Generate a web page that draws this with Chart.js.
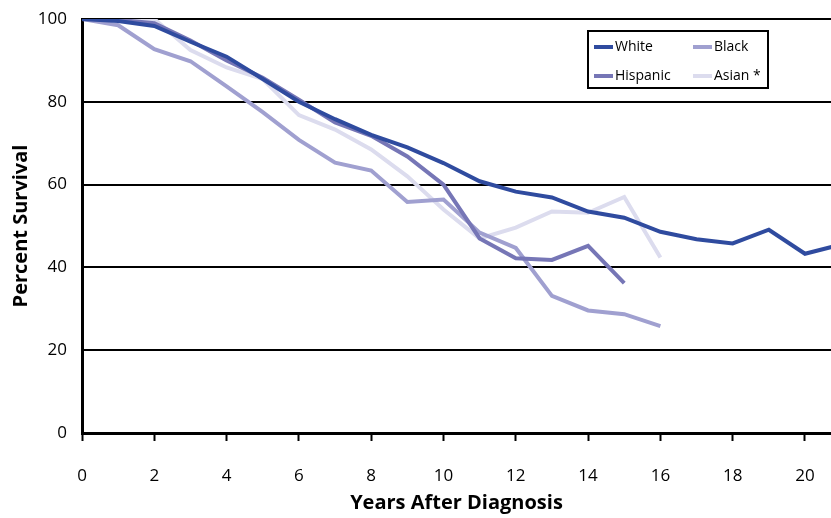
<!DOCTYPE html>
<html>
<head>
<meta charset="utf-8">
<title>Percent Survival by Years After Diagnosis</title>
<script src="https://cdn.jsdelivr.net/npm/chart.js@4"></script>
<style>
  html, body { margin: 0; padding: 0; background: #fff; }
  #chart { display: block; }
</style>
</head>
<body>
<canvas id="chart" width="831" height="518"></canvas>
<script>
// survival data
var years = [0, 1, 2, 3, 4, 5, 6, 7, 8, 9, 10, 11, 12, 13, 14, 15, 16, 17, 18, 19, 20, 21];
var white = [100, 99.5, 98.3, 94.5, 90.9, 85.5, 80, 75.8, 72, 69, 65.2, 60.8, 58.3, 56.9, 53.5, 52, 48.6, 46.8, 45.8, 49.1, 43.3, 45.5];
var hispanic = [100, 99.8, 99, 94.8, 90, 85.8, 80.5, 75, 71.8, 66.8, 60, 47, 42.2, 41.8, 45.2, 36.2];
var black = [100, 98.5, 92.7, 89.8, 83.7, 77.5, 70.8, 65.3, 63.4, 55.8, 56.4, 48.4, 44.7, 33.1, 29.6, 28.7, 25.8];
var asian = [100, 100, 100, 92.5, 88.3, 85.5, 76.8, 73.3, 68.5, 62, 54, 47, 49.6, 53.5, 53.2, 57, 42.4];
var seriesLabels = ['White', 'Hispanic', 'Black', 'Asian *'];
var xTicks = [0, 2, 4, 6, 8, 10, 12, 14, 16, 18, 20];
var yTicks = [0, 20, 40, 60, 80, 100];

var FONT = "'Open Sans', 'DejaVu Sans', sans-serif";

function toPoints(vals) {
  return vals.map(function(v, i) { return { x: years[i], y: v }; });
}

function makeSet(label, vals, color, order) {
  return {
    label: label,
    data: toPoints(vals),
    borderColor: color,
    backgroundColor: color,
    borderWidth: 4,
    pointRadius: 0,
    tension: 0,
    order: order
  };
}

// boxed 2x2 legend like the original
var boxLegend = {
  id: 'boxLegend',
  afterDraw: function(chart) {
    var ctx = chart.ctx;
    var sets = chart.data.datasets;
    var bx = 588, by = 31, bw = 180, bh = 57;
    ctx.save();
    ctx.fillStyle = '#fff';
    ctx.fillRect(bx, by, bw, bh);
    ctx.strokeStyle = '#000';
    ctx.lineWidth = 2;
    ctx.strokeRect(bx, by, bw, bh);
    ctx.font = '14px ' + FONT;
    ctx.textBaseline = 'middle';
    ctx.textAlign = 'left';
    sets.forEach(function(ds, i) {
      var col = Math.floor(i / 2), row = i % 2;
      var x = bx + 6 + col * 99;
      var y = by + 16 + row * 29;
      ctx.fillStyle = ds.borderColor;
      ctx.fillRect(x, y - 2, 19, 4);
      ctx.fillStyle = '#000';
      ctx.fillText(ds.label, x + 21, y);
    });
    ctx.restore();
  }
};

var ctx = document.getElementById('chart').getContext('2d');
new Chart(ctx, {
  type: 'line',
  data: {
    datasets: [
      makeSet(seriesLabels[0], white, '#2f4b9f', 0),
      makeSet(seriesLabels[1], hispanic, '#7676b6', 1),
      makeSet(seriesLabels[2], black, '#a0a0d0', 2),
      makeSet(seriesLabels[3], asian, '#dcdcee', 3)
    ]
  },
  options: {
    responsive: false,
    animation: false,
    layout: { padding: { top: 19, right: 0, left: 0, bottom: 0 } },
    plugins: {
      legend: { display: false },
      tooltip: { enabled: false }
    },
    scales: {
      x: {
        type: 'linear',
        min: 0,
        max: 20.72,
        afterFit: function(s) { s.height = 85; s.paddingLeft = 0; s.paddingRight = 0; },
        afterBuildTicks: function(s) { s.ticks = xTicks.map(function(v) { return { value: v }; }); },
        border: { color: '#000', width: 3 },
        grid: { drawOnChartArea: false, drawTicks: true, tickLength: 8, tickWidth: 2, tickColor: '#000' },
        ticks: { color: '#000', padding: 25, maxRotation: 0, font: { family: FONT, size: 17 } },
        title: { display: true, text: 'Years After Diagnosis', color: '#000', padding: { top: 0, bottom: 3 }, font: { family: FONT, size: 20, weight: 'bold' } }
      },
      y: {
        min: 0,
        max: 100,
        afterFit: function(s) { s.width = 82; s.paddingTop = 0; s.paddingBottom = 0; },
        afterBuildTicks: function(s) { s.ticks = yTicks.map(function(v) { return { value: v }; }); },
        border: { color: '#000', width: 3 },
        grid: { color: '#000', lineWidth: 2, drawTicks: false },
        ticks: { color: '#000', padding: 15, font: { family: FONT, size: 17 } },
        title: { display: true, text: 'Percent Survival', color: '#000', padding: { top: 9, bottom: 0 }, font: { family: FONT, size: 20, weight: 'bold' } }
      }
    }
  },
  plugins: [boxLegend]
});
</script>
</body>
</html>
